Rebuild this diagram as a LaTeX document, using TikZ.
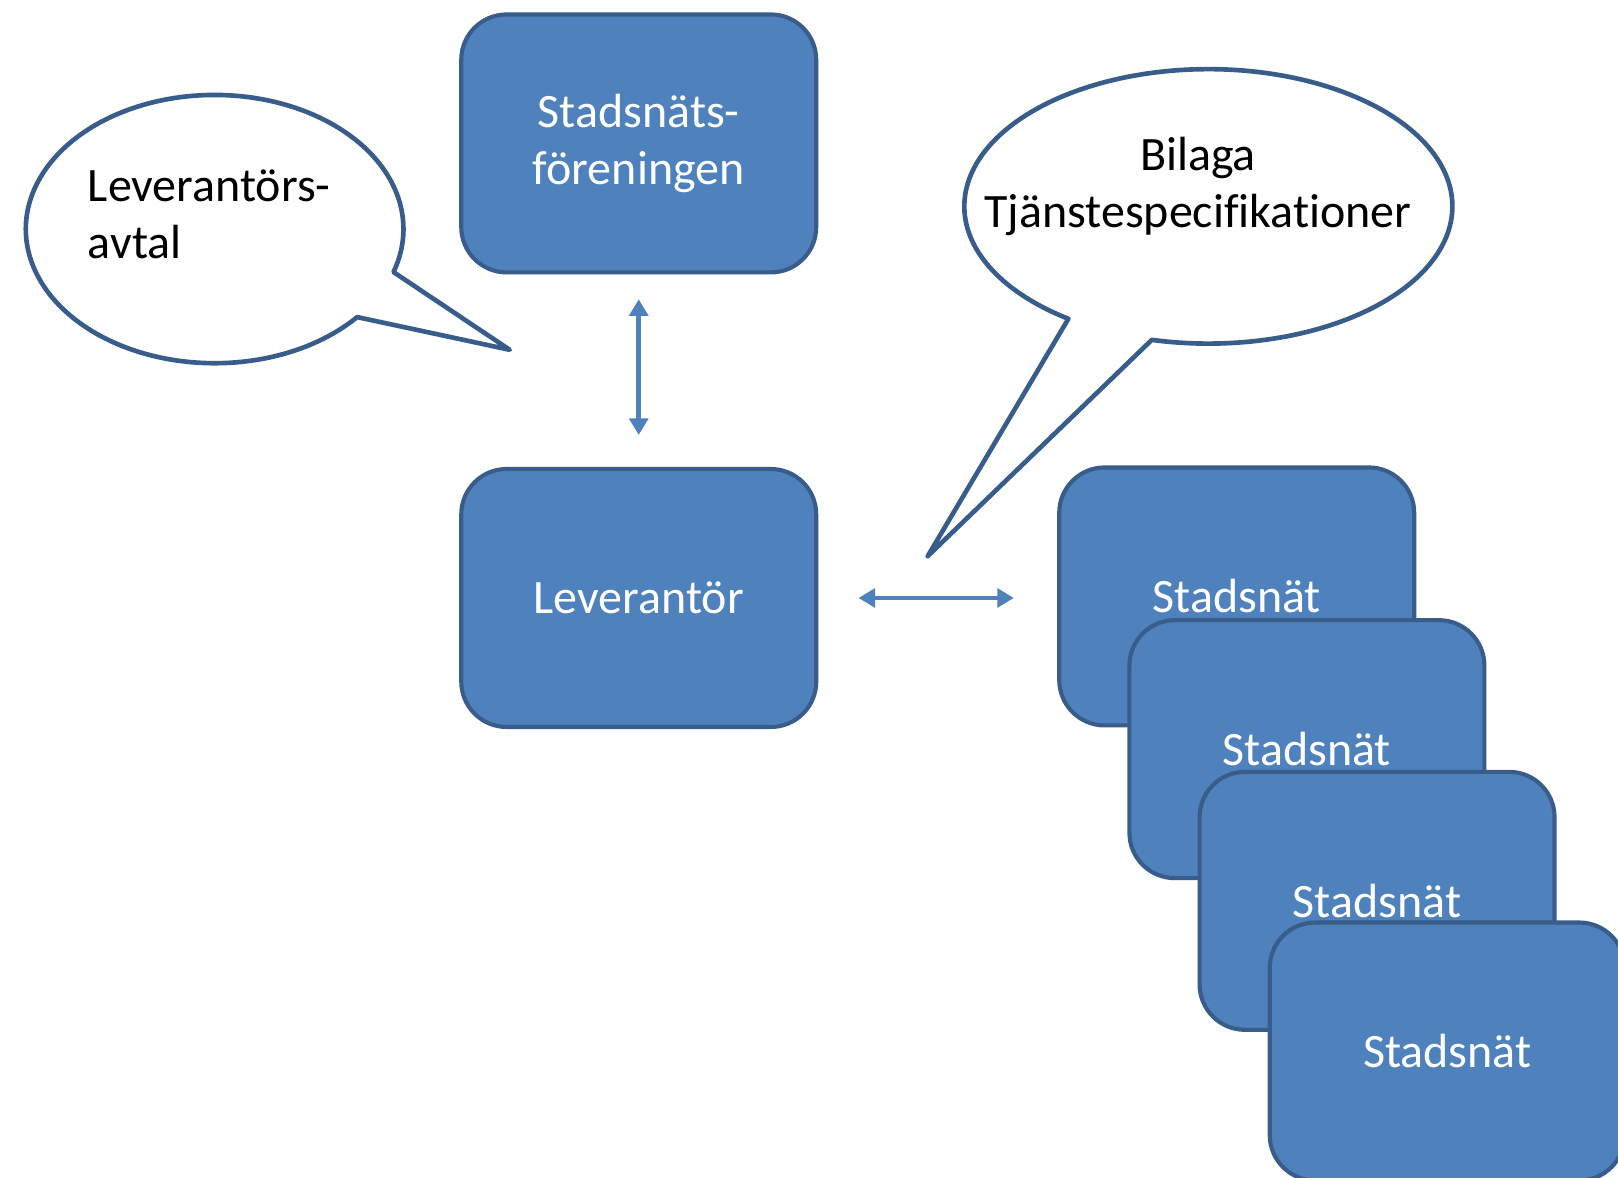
\documentclass[tikz,border=0pt]{standalone}
\usepackage{fontspec}
\setmainfont{Carlito}[Ligatures=NoCommon]
\usetikzlibrary{arrows.meta}
\definecolor{boxfill}{HTML}{4F81BD}
\definecolor{boxline}{HTML}{385D8A}
\begin{document}
\begin{tikzpicture}[x=1pt,y=-1pt,
  nbox/.style={draw=boxline, fill=boxfill, line width=4pt, rounded corners=44pt,
    minimum width=344pt, minimum height=250pt, text=white,
    font=\fontsize{46.5}{55}\selectfont, align=center, inner sep=0pt},
  callout/.style={draw=boxline, fill=white, line width=4.5pt, line join=round},
  ctext/.style={text=black, font=\fontsize{46.5}{55}\selectfont, inner sep=0pt},
  link/.style={draw=boxfill, line width=4.5pt,
    {Triangle[length=16pt,width=18pt]}-{Triangle[length=16pt,width=18pt]}}
]
\useasboundingbox[fill=white] (0,0) rectangle (1568,1141.6);
\clip (0,0) rectangle (1568,1141.6);

% callouts
\coordinate (tipL) at (494,339);
\draw[callout] (tipL) -- plot[domain=41:378.7, samples=200] ({208+183*cos(\x)},{222+130*sin(\x)}) -- cycle;
\coordinate (tipR) at (899,539);
\draw[callout] (tipR) -- plot[domain=125:463.4, samples=200] ({1171+236.5*cos(\x)},{200+133*sin(\x)}) -- cycle;
\node[ctext, anchor=west, align=left] (tL) at (85,208) {Leverantörs-\\avtal};
\node[ctext, align=center] (tR) at (1161,181) {Bilaga\\Tjänstespecifikationer};

% boxes
\node[nbox] (A) at (619,139) {Stadsnäts-\\föreningen};
\node[nbox] (B) at (619,579.5) {Leverantör};
\node[nbox] (S1) at (1198.5,578) {Stadsnät};
\node[nbox] (S2) at (1266.5,726) {Stadsnät};
\node[nbox] (S3) at (1334.5,873) {Stadsnät};
\node[nbox] (S4) at (1402.5,1019) {Stadsnät};

% arrows
\draw[link, shorten <=24pt, shorten >=31pt] (A.south) -- (B.north);
\draw[link, shorten <=39pt, shorten >=42pt] (B.east) -- (B.east -| S1.west);
\end{tikzpicture}
\end{document}
